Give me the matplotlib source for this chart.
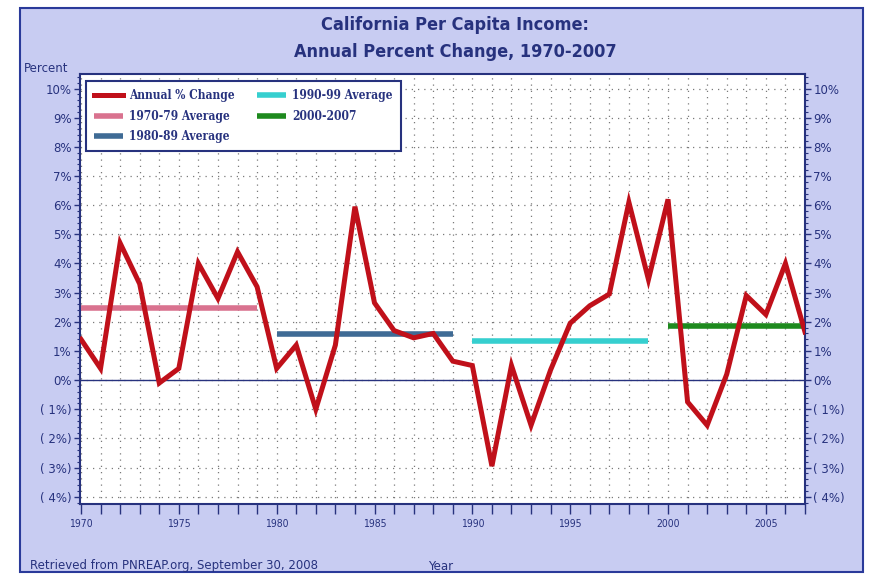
import matplotlib
matplotlib.use("Agg")
import matplotlib.pyplot as plt
from matplotlib.patches import Rectangle
from matplotlib.ticker import MultipleLocator, FixedLocator, FuncFormatter

years = list(range(1970, 2008))
pct_change = [1.4, 0.4, 4.7, 3.3, -0.1, 0.4, 4.0, 2.8, 4.4, 3.2,
              0.4, 1.2, -1.0, 1.2, 5.95, 2.65, 1.7, 1.45, 1.6, 0.65,
              0.5, -2.95, 0.5, -1.55, 0.35, 1.95, 2.55, 2.95, 6.1, 3.45,
              6.2, -0.75, -1.55, 0.2, 2.9, 2.25, 4.0, 1.65]

avg_labels = ["1970-79 Average", "1980-89 Average", "1990-99 Average", "2000-2007"]
avg_starts = [1970, 1980, 1990, 2000]
avg_ends = [1979, 1989, 1999, 2007]
avg_values = [2.48, 1.57, 1.34, 1.85]
avg_colors = ["#d9728f", "#3f6b95", "#36cfcf", "#1e8a1e"]

title_lines = ["California Per Capita Income:", "Annual Percent Change, 1970-2007"]
navy = "#27327e"

fig = plt.figure(figsize=(8.69, 5.74), dpi=100)
fig.patch.set_facecolor("white")
W, H = 869, 574
fig.add_artist(Rectangle((20 / W, 1 - 572 / H), (863 - 20) / W, (572 - 8) / H,
                         transform=fig.transFigure, facecolor="#c8ccf2",
                         edgecolor="#2a3a9a", linewidth=1.5, zorder=0))

ax = fig.add_axes([80 / W, 1 - 504 / H, (805 - 80) / W, (504 - 74) / H])
ax.set_facecolor("white")
ax.set_xlim(1969.95, 2007.0)
ax.set_ylim(-4.25, 10.5)

# grid
for y in range(-4, 11):
    ax.axhline(y, color="#7a7a7a", lw=0.9, ls=(0, (1, 4)), zorder=1)
for x in years:
    ax.axvline(x, color="#7a7a7a", lw=0.9, ls=(0, (1, 4)), zorder=1)
ax.axhline(0, color=navy, lw=1.0, zorder=2)

line, = ax.plot(years, pct_change, color="#c0101a", lw=3.6, zorder=5,
                solid_joinstyle="miter", label="Annual % Change")
handles = [line]
for lab, s, e, v, c in zip(avg_labels, avg_starts, avg_ends, avg_values, avg_colors):
    h, = ax.plot([s, e], [v, v], color=c, lw=4, zorder=4, solid_capstyle="butt", label=lab)
    handles.append(h)

for sp in ax.spines.values():
    sp.set_color(navy)
    sp.set_linewidth(1.5)

# y ticks
def yfmt(v, pos):
    v = int(round(v))
    return f"{v}%" if v >= 0 else f"( {abs(v)}%)"

ax.yaxis.set_major_locator(MultipleLocator(1))
ax.yaxis.set_minor_locator(MultipleLocator(0.2))
ax.yaxis.set_major_formatter(FuncFormatter(yfmt))
ax.tick_params(axis="y", which="both", left=True, right=True, labelleft=True,
               labelright=True, direction="out", colors=navy, labelsize=8.5)
ax.tick_params(axis="y", which="major", length=4, width=1, pad=2)
ax.tick_params(axis="y", which="minor", length=2.5, width=0.8)
for lbl in ax.get_yticklabels():
    lbl.set_color(navy)

# x ticks
ax.xaxis.set_major_locator(FixedLocator(list(range(1970, 2006, 5))))
ax.xaxis.set_minor_locator(FixedLocator(years))
ax.tick_params(axis="x", which="both", direction="out", length=7, width=1,
               colors=navy, labelsize=7.5, pad=4)
for lbl in ax.get_xticklabels():
    lbl.set_color(navy)
    lbl.set_fontstretch("condensed")

leg = ax.legend(handles=handles, ncol=2, loc="upper left",
                bbox_to_anchor=(6 / 725, 1 - 7 / 430), borderaxespad=0,
                frameon=True, fancybox=False, edgecolor=navy, facecolor="white",
                framealpha=1,
                prop={"weight": "bold", "size": 8.6, "family": "DejaVu Serif",
                      "stretch": "condensed"},
                handlelength=2.4, handleheight=0.6, labelspacing=0.6,
                columnspacing=1.9, borderpad=0.7, handletextpad=0.5)
leg.get_frame().set_linewidth(1.5)
for t in leg.get_texts():
    t.set_color(navy)
leg.set_zorder(10)

for i, txt in enumerate(title_lines):
    fig.text(455 / W, 1 - (25 + 27 * i) / H, txt, ha="center", va="center",
             fontsize=13, fontweight="bold", color=navy, fontstretch="condensed",
             family="DejaVu Sans")
fig.text(24 / W, 1 - 68 / H, "Percent", ha="left", va="center", fontsize=8.5, color=navy)
fig.text(30 / W, 1 - 566 / H, "Retrieved from PNREAP.org, September 30, 2008",
         ha="left", va="center", fontsize=8.5, color=navy)
fig.text(428 / W, 1 - 566 / H, "Year", ha="left", va="center", fontsize=8.5, color=navy)

fig.savefig("out.png", dpi=100)
